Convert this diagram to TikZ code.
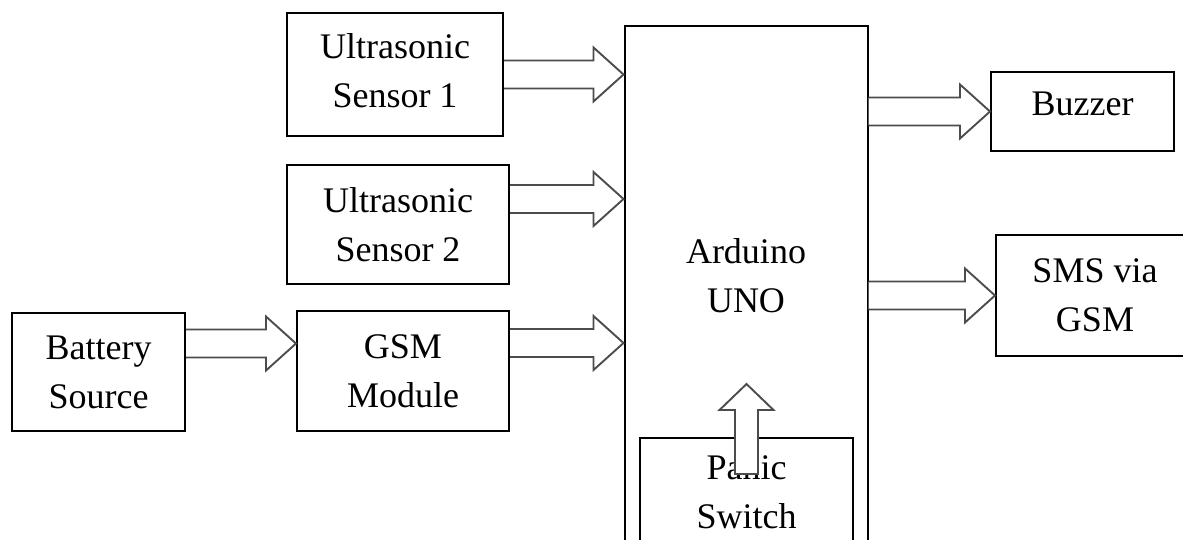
\documentclass[tikz,border=0pt]{standalone}
\usepackage{fontspec}
\setmainfont{Liberation Serif}
\usetikzlibrary{calc}

\tikzset{
  blk/.style={draw, line width=2pt, inner sep=0pt, align=center, font=\fontsize{36}{49}\selectfont},
  lbl/.style={inner sep=0pt, align=center, font=\fontsize{36}{49}\selectfont},
  blockarr/.style={draw=black!70, line width=1.9pt, fill=white},
}

% open-tailed block arrow from #1 to #2 (same height)
\newcommand{\blockarrow}[2]{%
  \draw[blockarr] ($#1+(0,-14)$) -- ($#2+(-30,-14)$) -- ($#2+(-30,-27)$) -- #2
    -- ($#2+(-30,27)$) -- ($#2+(-30,14)$) -- ($#1+(0,14)$);
}

\begin{document}
\begin{tikzpicture}[x=1pt,y=-1pt]

\useasboundingbox (0,0) rectangle (1183,539);
\clip (0,0) rectangle (1183,539);

% Inputs
\node[blk, minimum width=216, minimum height=123, text depth=8pt] (sensorOne) at (395,74.5) {Ultrasonic\\Sensor 1};
\node[blk, minimum width=222, minimum height=119] (sensorTwo) at (398,224.5) {Ultrasonic\\Sensor 2};
\node[blk, minimum width=173, minimum height=118] (battery) at (98.5,372) {Battery\\Source};
\node[blk, minimum width=212, minimum height=120] (gsm) at (403,371) {GSM\\Module};

% Controller
\node[blk, minimum width=243, minimum height=540, anchor=north] (arduino) at (746,25) {};
\node[lbl] (arduinoLbl) at (746,276) {Arduino\\UNO};
\node[blk, minimum width=213, minimum height=108] (panic) at (746.5,492) {Panic\\Switch};

% Outputs
\node[blk, minimum width=183, minimum height=79, text depth=16pt] (buzzer) at (1082.5,111.5) {Buzzer};
\node[blk, minimum width=198, minimum height=121] (sms) at (1095,295.5) {SMS via\\GSM};

% Arrow ends
\coordinate (inOne) at (arduino.west |- sensorOne.east);
\coordinate (srcTwo) at ($(sensorTwo.east)+(0,-25.5)$);
\coordinate (inTwo) at (arduino.west |- srcTwo);
\coordinate (srcGsm) at ($(gsm.east)+(0,-28)$);
\coordinate (inGsm) at (arduino.west |- srcGsm);
\coordinate (srcBat) at ($(battery.east)+(0,-28.5)$);
\coordinate (inBat) at (gsm.west |- srcBat);
\coordinate (outBuz) at (arduino.east |- buzzer.west);
\coordinate (outSms) at (arduino.east |- sms.west);

% Block arrows
\blockarrow{(sensorOne.east)}{(inOne)}
\blockarrow{(srcTwo)}{(inTwo)}
\blockarrow{(srcGsm)}{(inGsm)}
\blockarrow{(srcBat)}{(inBat)}
\blockarrow{(outBuz)}{(buzzer.west)}
\blockarrow{(outSms)}{(sms.west)}

% Panic switch arrow
\draw[blockarr] ($(panic.north)+(-11.5,37)$) -- ($(panic.north)+(-11.5,-27)$)
  -- ($(panic.north)+(-27,-27)$) -- ($(panic.north)+(0,-53)$)
  -- ($(panic.north)+(27,-27)$) -- ($(panic.north)+(11.5,-27)$)
  -- ($(panic.north)+(11.5,37)$) -- cycle;

\end{tikzpicture}
\end{document}
